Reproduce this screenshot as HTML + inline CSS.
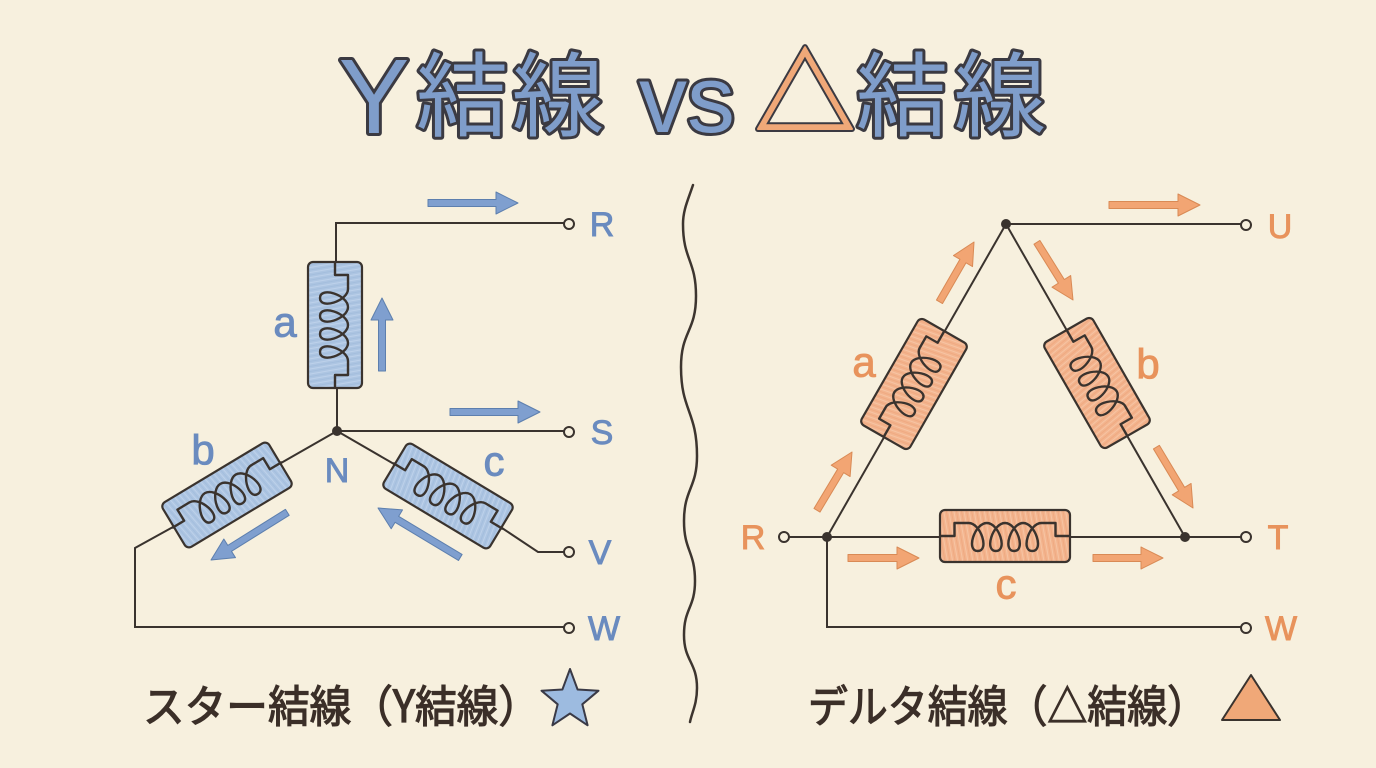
<!DOCTYPE html>
<html><head><meta charset="utf-8"><style>
html,body{margin:0;padding:0;background:#f7f0de;}
svg{display:block;}
</style></head><body>
<svg width="1376" height="768" viewBox="0 0 1376 768" xmlns="http://www.w3.org/2000/svg">
<defs>
<pattern id="hb" width="5" height="5" patternUnits="userSpaceOnUse" patternTransform="rotate(80)">
<rect width="5" height="5" fill="#adc5e2"/><line x1="0" y1="1" x2="5" y2="1" stroke="#bdd1ea" stroke-width="1"/><line x1="0" y1="3.5" x2="5" y2="3.5" stroke="#a0bbdc" stroke-width="0.7"/></pattern>
<pattern id="ho" width="5" height="5" patternUnits="userSpaceOnUse" patternTransform="rotate(80)">
<rect width="5" height="5" fill="#f3b48e"/><line x1="0" y1="1" x2="5" y2="1" stroke="#f6c4a3" stroke-width="1"/><line x1="0" y1="3.5" x2="5" y2="3.5" stroke="#eea67d" stroke-width="0.7"/></pattern>
<g id="coil"><path d="M -64 0 H -50 V -13 H -36 C -24 -13 -15 15 -27 15 C -39 15 -30 -13 -18 -13 C -6 -13 3 15 -9 15 C -21 15 -12 -13 0 -13 C 12 -13 21 15 9 15 C -3 15 6 -13 18 -13 C 30 -13 39 15 27 15 C 15 15 24 -13 36 -13 H 50 V 0 H 64" fill="none" stroke="#3a332e" stroke-width="2.4" stroke-linejoin="round"/></g>
</defs>

<!-- Title -->
<g font-family="'Noto Sans CJK JP','Liberation Sans',sans-serif" font-weight="400" text-anchor="middle" stroke-linejoin="round">
<g stroke="#3b3a42" stroke-width="6" fill="#3b3a42">
<text x="374" y="133" font-size="106" font-family="'Liberation Sans','Noto Sans CJK JP',sans-serif">Y</text>
<text x="462" y="129" font-size="92">結</text>
<text x="558" y="129" font-size="92">線</text>
<text x="687" y="132" font-size="96" font-family="'Liberation Sans','Noto Sans CJK JP',sans-serif">vs</text>
<text x="805" y="130" font-size="100">△</text>
<text x="902" y="129" font-size="92">結</text>
<text x="1000" y="129" font-size="92">線</text>
</g>
<g fill="#7f9dca">
<text x="374" y="133" font-size="106" font-family="'Liberation Sans','Noto Sans CJK JP',sans-serif">Y</text>
<text x="462" y="129" font-size="92">結</text>
<text x="558" y="129" font-size="92">線</text>
<text x="687" y="132" font-size="96" font-family="'Liberation Sans','Noto Sans CJK JP',sans-serif">vs</text>
<text x="902" y="129" font-size="92">結</text>
<text x="1000" y="129" font-size="92">線</text>
</g>
<text x="805" y="130" font-size="100" fill="#f0a878" stroke="#f0a878" stroke-width="2">△</text>
</g>

<!-- Divider -->
<path d="M 693 185 C 688 200 683 210 683 224 C 683 260 696 260 696 296 C 696 332 681 331 681 367 C 681 411 697 411 697 456 C 697 488 684 489 684 521 C 684 551 695 551 695 581 C 695 608 684 608 684 635 C 684 661 697 662 697 688 C 697 704 692 712 690 722" fill="none" stroke="#3d352f" stroke-width="2.5" stroke-linecap="round"/>

<!-- ===== Y connection ===== -->
<g fill="none" stroke="#3a332e" stroke-width="2">
<path d="M 336 262 V 223 H 564"/>
<path d="M 337 431 V 388"/>
<path d="M 337 431 H 564"/>
<path d="M 337 431 L 281 463"/>
<path d="M 173 527 L 135 548 V 627 H 564"/>
<path d="M 337 431 L 394 464"/>
<path d="M 502 528 L 538 552 H 564"/>
</g>
<g transform="translate(335,325) rotate(90)">
<rect x="-63" y="-27" width="126" height="54" rx="5" fill="url(#hb)" stroke="#3a332e" stroke-width="2.2"/>
<use href="#coil"/></g>
<g transform="translate(227,495) rotate(-31)">
<rect x="-62" y="-26" width="124" height="52" rx="5" fill="url(#hb)" stroke="#3a332e" stroke-width="2.2"/>
<use href="#coil"/></g>
<g transform="translate(448,496) rotate(31)">
<rect x="-62" y="-26" width="124" height="52" rx="5" fill="url(#hb)" stroke="#3a332e" stroke-width="2.2"/>
<use href="#coil"/></g>
<circle cx="337" cy="431" r="5" fill="#3a332e"/>
<g fill="#f7f0de" stroke="#3a332e" stroke-width="2">
<circle cx="569" cy="224" r="5"/><circle cx="569" cy="432" r="5"/><circle cx="569" cy="552" r="5"/><circle cx="569" cy="628" r="5"/>
</g>
<!-- blue arrows -->
<g fill="#7f9fcf" stroke="#5d7fae" stroke-width="1" stroke-linejoin="round">
<g transform="translate(518,203)"><polygon points="0,0 -22,-11 -22,-3.5 -90,-3.5 -90,3.5 -22,3.5 -22,11"/></g>
<g transform="translate(540,412)"><polygon points="0,0 -22,-11 -22,-3.5 -90,-3.5 -90,3.5 -22,3.5 -22,11"/></g>
<g transform="translate(382,298) rotate(-90)"><polygon points="0,0 -22,-11 -22,-3.5 -73,-3.5 -73,3.5 -22,3.5 -22,11"/></g>
<g transform="translate(211,560) rotate(148)"><polygon points="0,0 -22,-11 -22,-3.5 -90,-3.5 -90,3.5 -22,3.5 -22,11"/></g>
<g transform="translate(378,508) rotate(211)"><polygon points="0,0 -22,-11 -22,-3.5 -96,-3.5 -96,3.5 -22,3.5 -22,11"/></g>
</g>
<g font-family="'Liberation Sans',sans-serif" fill="#6a8bbf" stroke="#6a8bbf" stroke-width="0.9" font-size="34" text-anchor="middle" dominant-baseline="central">
<text x="602" y="225">R</text><text x="602" y="433">S</text><text x="600" y="553">V</text><text x="604" y="629">W</text>
<text x="337" y="471">N</text>
<text x="285" y="322" font-size="42">a</text>
<text x="203" y="450" font-size="42">b</text>
<text x="494" y="461" font-size="42">c</text>
</g>

<!-- ===== Delta connection ===== -->
<g fill="none" stroke="#3a332e" stroke-width="2">
<path d="M 1006 224 H 1241"/>
<path d="M 1006 224 L 827 537"/>
<path d="M 1006 224 L 1185 537"/>
<path d="M 789 537 H 1241"/>
<path d="M 827 537 V 627 H 1241"/>
</g>
<g transform="translate(914,384) rotate(-60.2)">
<rect x="-61" y="-28" width="122" height="56" rx="5" fill="url(#ho)" stroke="#3a332e" stroke-width="2.2"/>
<use href="#coil" transform="scale(0.95,1)"/></g>
<g transform="translate(1097,383) rotate(60.2)">
<rect x="-61" y="-28" width="122" height="56" rx="5" fill="url(#ho)" stroke="#3a332e" stroke-width="2.2"/>
<use href="#coil" transform="scale(0.95,1)"/></g>
<g transform="translate(1005,536)">
<rect x="-65" y="-26" width="130" height="52" rx="5" fill="url(#ho)" stroke="#3a332e" stroke-width="2.2"/>
<use href="#coil" transform="scale(1.01,1)"/></g>
<g fill="#3a332e"><circle cx="1006" cy="224" r="5"/><circle cx="827" cy="537" r="5"/><circle cx="1185" cy="537" r="5"/></g>
<g fill="#f7f0de" stroke="#3a332e" stroke-width="2">
<circle cx="1246" cy="225" r="5"/><circle cx="784" cy="537" r="5"/><circle cx="1246" cy="537" r="5"/><circle cx="1246" cy="628" r="5"/>
</g>
<g fill="#f2a573" stroke="#d98a55" stroke-width="1" stroke-linejoin="round">
<g transform="translate(1200,205)"><polygon points="0,0 -22,-11 -22,-3.5 -91,-3.5 -91,3.5 -22,3.5 -22,11"/></g>
<g transform="translate(974,242) rotate(-60)"><polygon points="0,0 -22,-11 -22,-3.5 -69,-3.5 -69,3.5 -22,3.5 -22,11"/></g>
<g transform="translate(852,452) rotate(-59)"><polygon points="0,0 -22,-11 -22,-3.5 -68,-3.5 -68,3.5 -22,3.5 -22,11"/></g>
<g transform="translate(1073,300) rotate(58)"><polygon points="0,0 -22,-11 -22,-3.5 -68,-3.5 -68,3.5 -22,3.5 -22,11"/></g>
<g transform="translate(1193,508) rotate(59)"><polygon points="0,0 -22,-11 -22,-3.5 -71,-3.5 -71,3.5 -22,3.5 -22,11"/></g>
<g transform="translate(919,558)"><polygon points="0,0 -22,-11 -22,-3.5 -71,-3.5 -71,3.5 -22,3.5 -22,11"/></g>
<g transform="translate(1163,558)"><polygon points="0,0 -22,-11 -22,-3.5 -70,-3.5 -70,3.5 -22,3.5 -22,11"/></g>
</g>
<g font-family="'Liberation Sans',sans-serif" fill="#e8935c" stroke="#e8935c" stroke-width="0.9" font-size="34" text-anchor="middle" dominant-baseline="central">
<text x="1280" y="227">U</text><text x="753" y="538">R</text><text x="1278" y="538">T</text><text x="1281" y="629">W</text>
<text x="864" y="362" font-size="42">a</text>
<text x="1148" y="364" font-size="42">b</text>
<text x="1006" y="584" font-size="42">c</text>
</g>

<!-- Captions -->
<g font-family="'Noto Sans CJK JP','Liberation Sans',sans-serif" font-weight="400" fill="#3b2f28" stroke="#3b2f28" stroke-width="1.2" font-size="44">
<text x="143" y="722" textLength="397" lengthAdjust="spacingAndGlyphs">スター結線（Y結線）</text>
<text x="808" y="722" textLength="399" lengthAdjust="spacingAndGlyphs">デルタ結線（△結線）</text>
</g>
<polygon points="570,669 577.6,689.5 598.5,690.7 582.3,704.3 587.6,725.3 570,713.5 552.4,725.3 557.7,704.3 541.5,690.7 562.4,689.5" fill="#9dbbe0" stroke="#3a3a46" stroke-width="2" stroke-linejoin="round"/>
<polygon points="1251,675 1280,720 1222,720" fill="#f0a878" stroke="#3a332e" stroke-width="2" stroke-linejoin="round"/>
</svg>
</body></html>
